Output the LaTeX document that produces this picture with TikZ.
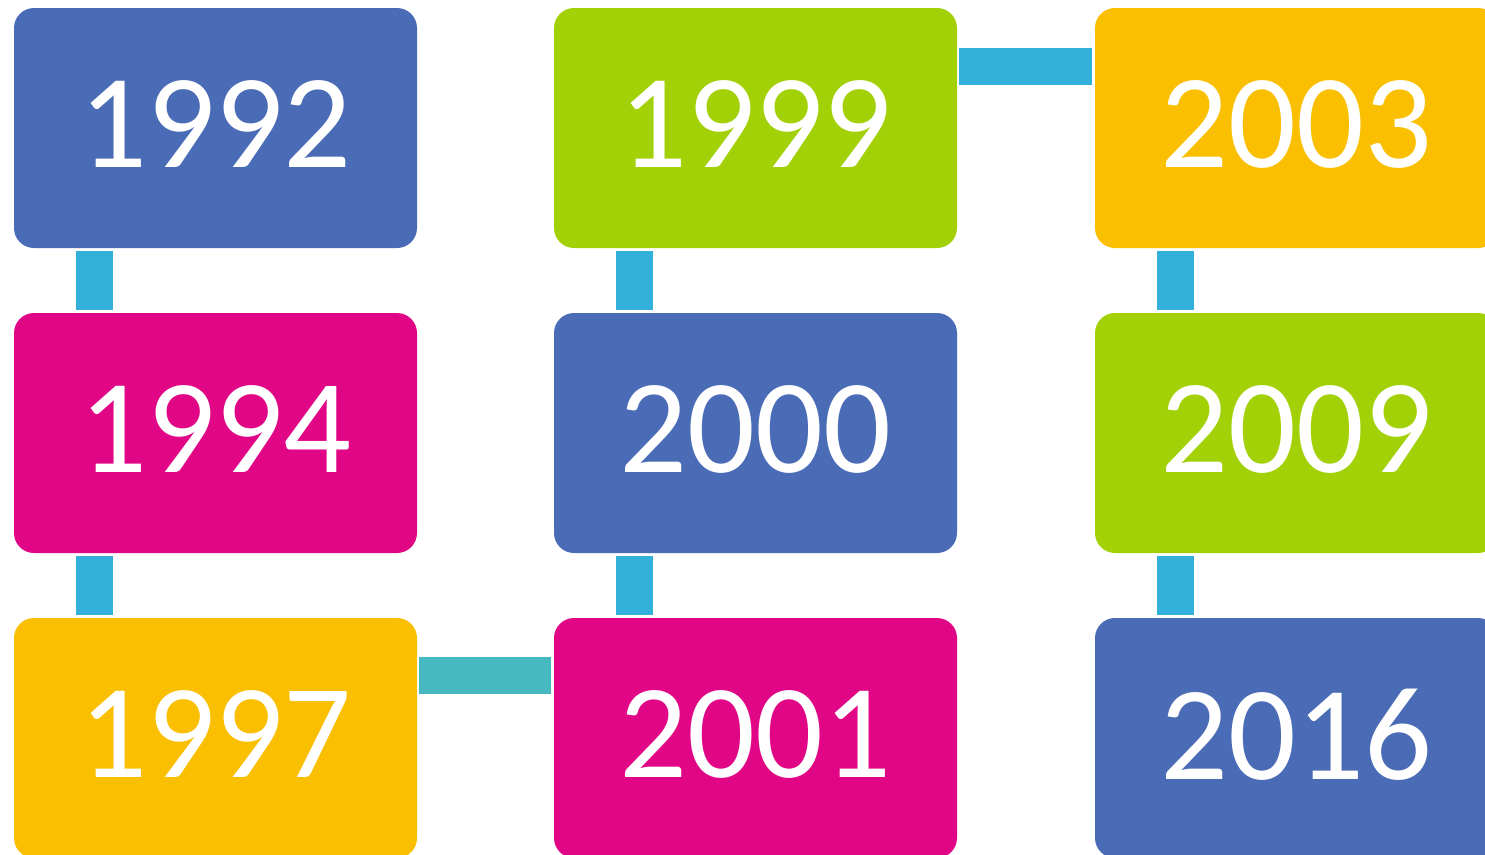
\documentclass[tikz,border=0pt]{standalone}
\usepackage{fontspec}
\setmainfont{Carlito}
\definecolor{cblue}{HTML}{4A6BB5}
\definecolor{cmag}{HTML}{E00686}
\definecolor{cyel}{HTML}{F9BF00}
\definecolor{cgreen}{HTML}{A3D107}
\definecolor{cbar}{HTML}{33B0DA}
\definecolor{cteal}{HTML}{45B8C0}
\tikzset{
  yearbox/.style={rectangle, rounded corners=20pt, minimum width=403pt, minimum height=240pt,
    inner sep=0pt, outer sep=0pt, anchor=north west, text=white, text depth=7pt,
    font=\fontsize{134}{134}\selectfont},
  vbar/.style={draw=cbar, line width=37pt, line cap=butt, shorten <=3pt, shorten >=3pt},
  hbar/.style={line width=37pt, line cap=butt, shorten <=2pt, shorten >=3pt},
}
\begin{document}
\begin{tikzpicture}[x=1pt,y=1pt]
\useasboundingbox (0,0) rectangle (1485,-854);
\begin{scope}
\clip (0,0) rectangle (1485,-854);
\node[yearbox, fill=cblue]  (a) at (14,-8)    {1992};
\node[yearbox, fill=cmag]   (b) at (14,-313)  {1994};
\node[yearbox, fill=cyel]   (c) at (14,-618)  {1997};
\node[yearbox, fill=cgreen] (d) at (554,-8)   {1999};
\node[yearbox, fill=cblue]  (e) at (554,-313) {2000};
\node[yearbox, fill=cmag]   (f) at (554,-618) {2001};
\node[yearbox, fill=cyel]   (g) at (1095,-8)  {2003};
\node[yearbox, fill=cgreen] (h) at (1095,-313){2009};
\node[yearbox, fill=cblue]  (i) at (1095,-618){2016};
\draw[vbar] ([xshift=80.5pt]a.south west) -- ([xshift=80.5pt]b.north west);
\draw[vbar] ([xshift=80.5pt]b.south west) -- ([xshift=80.5pt]c.north west);
\draw[vbar] ([xshift=80.5pt]d.south west) -- ([xshift=80.5pt]e.north west);
\draw[vbar] ([xshift=80.5pt]e.south west) -- ([xshift=80.5pt]f.north west);
\draw[vbar] ([xshift=80.5pt]g.south west) -- ([xshift=80.5pt]h.north west);
\draw[vbar] ([xshift=80.5pt]h.south west) -- ([xshift=80.5pt]i.north west);
\draw[hbar, draw=cbar] ([yshift=-58.5pt]d.north east) -- ([yshift=-58.5pt]g.north west);
\draw[hbar, draw=cteal] ([yshift=-57.5pt]c.north east) -- ([yshift=-57.5pt]f.north west);
\end{scope}
\end{tikzpicture}
\end{document}
